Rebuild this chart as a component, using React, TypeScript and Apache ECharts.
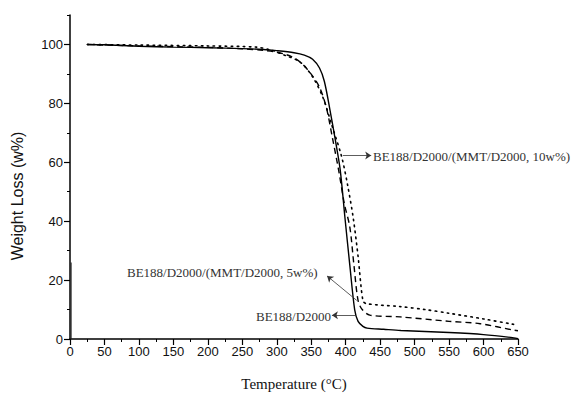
import React, { useEffect, useRef } from "react";
import * as echarts from "echarts";

// Thermogravimetric curves: [temperature °C, weight %]
const neatResin: [number, number][] = [
  [25, 100], [50, 99.9], [100, 99.4], [150, 99.1], [200, 98.9], [250, 98.6],
  [280, 98.3], [300, 97.9], [325, 97.2], [340, 96.4], [352, 95], [362, 92],
  [369, 87.5], [377, 78], [385, 67.5], [392, 57.5], [399, 41], [406, 25],
  [413, 10], [418, 6], [425, 4.3], [431, 3.7], [455, 3.3], [480, 2.9],
  [550, 2.2], [600, 1.5], [644, 0.4], [650, 0.1],
];
const clay5: [number, number][] = [
  [25, 100], [100, 99.5], [200, 99], [250, 98.5], [280, 98], [295, 97.6],
  [310, 96.8], [322, 95.8], [335, 93.8], [348, 90.5], [362, 85.5], [372, 78.5],
  [381, 68], [390, 57], [398, 46], [406, 38], [412, 25], [418, 13],
  [424, 10], [435, 8.1], [479, 7.5], [550, 6], [595, 5.2], [644, 3], [650, 2.8],
];
const clay10: [number, number][] = [
  [25, 100], [100, 99.8], [200, 99.5], [270, 99.1], [290, 98.2], [310, 96.5],
  [334, 94], [352, 89], [367, 82], [380, 72.5], [394, 62], [403, 52],
  [411, 41], [418, 28], [425, 13], [430, 12], [479, 11], [515, 10],
  [551, 8.7], [600, 6.8], [643, 5], [650, 4.7],
];
const baselineTrace: [number, number][] = [[1.5, 0], [1.5, 26]];

const xTicks = [0, 50, 100, 150, 200, 250, 300, 350, 400, 450, 500, 550, 600, 650];
const yMajor = [0, 20, 40, 60, 80, 100];
const yMinor = [10, 30, 50, 70, 90, 110];

// Label leaders: [from point on curve, to label]
const leader10: [number, number][] = [[396, 62.3], [437, 62.3]];
const leader5: [number, number][] = [[416, 13.1], [373, 21.4]];
const leaderNeat: [number, number][] = [[413.5, 8.1], [380, 8.1]];

const serif = "'Liberation Serif', 'Times New Roman', serif";
const sans = "'Liberation Sans', Arial, sans-serif";

function leader(pts: [number, number][]) {
  return {
    silent: true,
    symbol: ["none", "arrow"],
    symbolSize: [6, 6],
    lineStyle: { color: "#333", width: 0.8, type: "solid" },
    label: { show: false },
    data: [[{ coord: pts[0] }, { coord: pts[1] }]],
  };
}

export default function App() {
  const ref = useRef<HTMLDivElement>(null);
  useEffect(() => {
    if (!ref.current) return;
    document.body.style.margin = "0";
    const chart = echarts.init(ref.current, null, { renderer: "svg" });
    const axisLine = { show: true, lineStyle: { color: "#000", width: 1.5 } };
    chart.setOption({
      animation: false,
      backgroundColor: "#fff",
      grid: { left: 70, right: 57, top: 15, bottom: 55 },
      xAxis: [
        {
          type: "value",
          min: 0,
          max: 650,
          interval: 50,
          axisLine,
          axisTick: { show: true, length: 6, lineStyle: { color: "#000", width: 1.2 } },
          minorTick: { show: true, splitNumber: 2, length: 3, lineStyle: { color: "#000", width: 1 } },
          splitLine: { show: false },
          axisLabel: {
            customValues: xTicks,
            color: "#111",
            fontFamily: sans,
            fontSize: 13,
            margin: 6,
          },
          name: "Temperature (°C)",
          nameLocation: "middle",
          nameGap: 37,
          nameTextStyle: { fontFamily: serif, fontSize: 15, color: "#111" },
        },
      ],
      yAxis: [
        {
          type: "value",
          min: 0,
          max: 110,
          interval: 10,
          axisLine,
          axisTick: { show: true, customValues: yMajor, length: 6, lineStyle: { color: "#000", width: 1.2 } },
          splitLine: { show: false },
          axisLabel: {
            customValues: yMajor,
            color: "#111",
            fontFamily: sans,
            fontSize: 13,
            margin: 7,
          },
        },
        {
          type: "value",
          min: 0,
          max: 110,
          interval: 10,
          position: "left",
          axisLine: { show: false },
          axisTick: { show: true, customValues: yMinor, length: 3, lineStyle: { color: "#000", width: 1 } },
          axisLabel: { show: false },
          splitLine: { show: false },
        },
      ],
      graphic: [
        {
          type: "text",
          x: 17,
          y: 196,
          rotation: Math.PI / 2,
          style: {
            text: "Weight Loss (w%)",
            fontFamily: sans,
            fontSize: 16,
            fill: "#111",
            align: "center",
            verticalAlign: "middle",
          },
        },
        {
          type: "text",
          x: 373,
          y: 156,
          style: {
            text: "BE188/D2000/(MMT/D2000, 10w%)",
            fontFamily: serif,
            fontSize: 13,
            fill: "#333",
            align: "left",
            verticalAlign: "middle",
          },
        },
        {
          type: "text",
          x: 127,
          y: 272,
          style: {
            text: "BE188/D2000/(MMT/D2000, 5w%)",
            fontFamily: serif,
            fontSize: 13,
            fill: "#333",
            align: "left",
            verticalAlign: "middle",
          },
        },
        {
          type: "text",
          x: 256,
          y: 316,
          style: {
            text: "BE188/D2000",
            fontFamily: serif,
            fontSize: 13,
            fill: "#333",
            align: "left",
            verticalAlign: "middle",
          },
        },
      ],
      series: [
        {
          name: "BE188/D2000",
          type: "line",
          data: neatResin,
          showSymbol: false,
          smooth: 0.3,
          lineStyle: { color: "#000", width: 1.4 },
          markLine: leader(leaderNeat),
        },
        {
          name: "BE188/D2000/(MMT/D2000, 5w%)",
          type: "line",
          data: clay5,
          showSymbol: false,
          smooth: 0.3,
          lineStyle: { color: "#000", width: 1.4, type: [6, 4] },
          markLine: leader(leader5),
        },
        {
          name: "BE188/D2000/(MMT/D2000, 10w%)",
          type: "line",
          data: clay10,
          showSymbol: false,
          smooth: 0.3,
          lineStyle: { color: "#000", width: 1.6, type: [1.5, 4.5], cap: "round" },
          markLine: leader(leader10),
        },
        {
          name: "trace",
          type: "line",
          data: baselineTrace,
          showSymbol: false,
          lineStyle: { color: "#222", width: 1.2 },
        },
      ],
    });
    return () => chart.dispose();
  }, []);
  return <div ref={ref} style={{ width: 575, height: 396 }} />;
}
